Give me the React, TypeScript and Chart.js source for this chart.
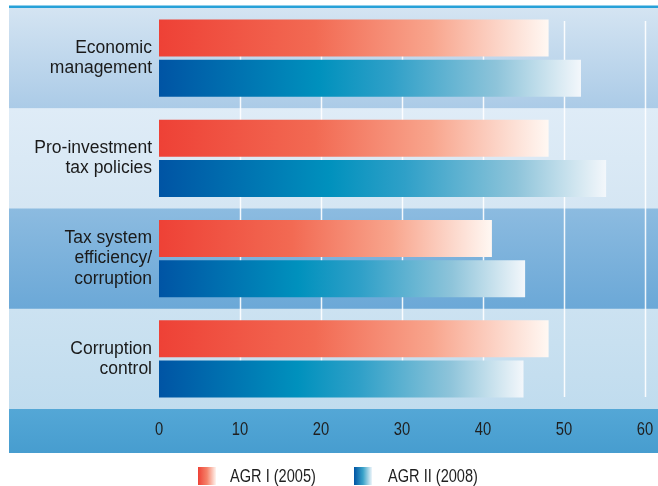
import React, { useEffect, useRef } from 'react';
import { Chart, registerables } from 'chart.js';

Chart.register(...registerables);

const categories: string[][] = [
  ['Economic', 'management'],
  ['Pro-investment', 'tax policies'],
  ['Tax system', 'efficiency/', 'corruption'],
  ['Corruption', 'control'],
];
const agr1: number[] = [48.1, 48.1, 41.1, 48.1];
const agr2: number[] = [52.1, 55.2, 45.2, 45.0];
const seriesNames: string[] = ['AGR I (2005)', 'AGR II (2008)'];
const xTicks: number[] = [0, 10, 20, 30, 40, 50, 60];

const SANS = "'Liberation Sans', Arial, sans-serif";

const redStops: [number, string][] = [[0, '#ee4136'], [0.4, '#f26a53'], [0.7, '#f8a58d'], [1, '#fff8f3']];
const blueStops: [number, string][] = [[0, '#0054a4'], [0.38, '#0091bd'], [0.55, '#2fa0c8'], [0.8, '#8ec4da'], [1, '#f3f7fb']];

const bandColors: [string, string][] = [
  ['#d4e4f2', '#abcbe7'],
  ['#dfecf7', '#d5e6f3'],
  ['#8cbbe0', '#6ba8d7'],
  ['#cce2f1', '#c0dcee'],
];

function makeGrad(ctx: CanvasRenderingContext2D, x0: number, x1: number, stops: [number, string][]) {
  const g = ctx.createLinearGradient(x0, 0, x1, 0);
  stops.forEach(([o, c]) => g.addColorStop(o, c));
  return g;
}

function barColor(stops: [number, string][]) {
  return (c: any) => {
    const chart = c.chart;
    const xs = chart.scales && chart.scales.x;
    if (!xs || c.type !== 'data' || !chart.chartArea) return stops[0][1];
    const v = c.raw as number;
    const x0 = xs.getPixelForValue(0);
    const x1 = xs.getPixelForValue(v);
    return makeGrad(chart.ctx, x0, x1, stops);
  };
}

const decorPlugin = {
  id: 'decor',
  beforeDraw(chart: any) {
    const { ctx, chartArea } = chart;
    ctx.save();
    ctx.fillStyle = '#ffffff';
    ctx.fillRect(0, 0, chart.width, chart.height);
    const left = 9;
    const right = chart.width;
    ctx.fillStyle = '#27a1d8';
    ctx.fillRect(left, chartArea.top - 2.5, right - left, 2.5);
    const n = categories.length;
    const h = (chartArea.bottom - chartArea.top) / n;
    for (let i = 0; i < n; i++) {
      const t = chartArea.top + i * h;
      const g = ctx.createLinearGradient(0, t, 0, t + h);
      g.addColorStop(0, bandColors[i][0]);
      g.addColorStop(1, bandColors[i][1]);
      ctx.fillStyle = g;
      ctx.fillRect(left, t, right - left, h + 0.5);
    }
    const ab = chartArea.bottom;
    const g2 = ctx.createLinearGradient(0, ab, 0, ab + 44);
    g2.addColorStop(0, '#54a7d6');
    g2.addColorStop(1, '#479dcf');
    ctx.fillStyle = g2;
    ctx.fillRect(left, ab, right - left, 44);
    ctx.restore();
  },
  beforeDatasetsDraw(chart: any) {
    const { ctx, chartArea, scales } = chart;
    ctx.save();
    ctx.strokeStyle = 'rgba(255,255,255,0.9)';
    ctx.lineWidth = 1.5;
    xTicks.filter((v) => v > 0).forEach((v) => {
      const x = Math.round(scales.x.getPixelForValue(v)) + 0.5;
      ctx.beginPath();
      ctx.moveTo(x, chartArea.top + 13);
      ctx.lineTo(x, chartArea.bottom - 12);
      ctx.stroke();
    });
    ctx.restore();
  },
  afterDraw(chart: any) {
    const { ctx, chartArea } = chart;
    ctx.save();
    const y = chartArea.bottom + 58;
    const items: [number, number, [number, string][]][] = [
      [198, 230, [[0, '#ee4136'], [0.5, '#f5826a'], [1, '#fff4ef']]],
      [354, 388, [[0, '#0054a4'], [0.5, '#3aa3c9'], [1, '#eef5fa']]],
    ];
    items.forEach(([bx, tx, stops], i) => {
      ctx.fillStyle = makeGrad(ctx, bx, bx + 18, stops);
      ctx.fillRect(bx, y, 18, 18);
      ctx.save();
      ctx.translate(tx, y + 15);
      ctx.scale(0.81, 1);
      ctx.fillStyle = '#1f1f1f';
      ctx.font = `18px ${SANS}`;
      ctx.textBaseline = 'alphabetic';
      ctx.textAlign = 'left';
      ctx.fillText(seriesNames[i], 0, 0);
      ctx.restore();
    });
    ctx.restore();
  },
};

function condensedLabels(s: any) {
  s.drawLabels = function (area: any) {
    const ctx = this.ctx as CanvasRenderingContext2D;
    const items = this.getLabelItems(area);
    for (const it of items) {
      const o = it.options;
      ctx.save();
      ctx.translate(o.translation[0], o.translation[1]);
      ctx.scale(0.82, 1);
      ctx.font = it.font.string;
      ctx.fillStyle = o.color;
      ctx.textAlign = o.textAlign;
      ctx.textBaseline = o.textBaseline;
      ctx.fillText(String(it.label), 0, it.textOffset);
      ctx.restore();
    }
  };
}

export default function App() {
  const ref = useRef<HTMLCanvasElement | null>(null);
  useEffect(() => {
    document.body.style.margin = '0';
    const canvas = ref.current;
    if (!canvas) return;
    const chart = new Chart(canvas, {
      type: 'bar',
      data: {
        labels: categories as any,
        datasets: [
          {
            label: seriesNames[0],
            data: agr1,
            backgroundColor: barColor(redStops) as any,
            borderWidth: 0,
            categoryPercentage: 0.8,
            barPercentage: 0.925,
          },
          {
            label: seriesNames[1],
            data: agr2,
            backgroundColor: barColor(blueStops) as any,
            borderWidth: 0,
            categoryPercentage: 0.8,
            barPercentage: 0.925,
          },
        ],
      },
      options: {
        indexAxis: 'y',
        responsive: false,
        animation: false,
        devicePixelRatio: 1,
        layout: { padding: { top: 8, right: 13, left: 0, bottom: 0 } },
        plugins: {
          legend: { display: false },
          tooltip: { enabled: false },
        },
        scales: {
          x: {
            type: 'linear',
            min: 0,
            max: 60,
            afterBuildTicks: (s: any) => {
              s.ticks = xTicks.map((v) => ({ value: v }));
            },
            afterFit: (s: any) => {
              s.height = 77;
              s.paddingLeft = 0;
              s.paddingRight = 0;
              s.paddingTop = 0;
              s.paddingBottom = 0;
            },
            afterUpdate: condensedLabels,
            ticks: {
              font: { family: SANS, size: 18 },
              color: '#1f1f1f',
              padding: 10,
              maxRotation: 0,
            },
            grid: { display: false, drawTicks: false },
            border: { display: false },
          },
          y: {
            type: 'category',
            afterFit: (s: any) => {
              s.width = 159;
              s.paddingLeft = 0;
              s.paddingRight = 0;
              s.paddingTop = 0;
              s.paddingBottom = 0;
            },
            ticks: {
              font: { family: SANS, size: 17.5, lineHeight: 1.15 },
              color: '#1a1a1a',
              padding: 7,
            },
            grid: { display: false, drawTicks: false },
            border: { display: false },
          },
        },
      },
      plugins: [decorPlugin],
    } as any);
    return () => chart.destroy();
  }, []);
  return (
    <div style={{ width: 658, height: 486 }}>
      <canvas ref={ref} width={658} height={486} style={{ display: 'block' }} />
    </div>
  );
}
